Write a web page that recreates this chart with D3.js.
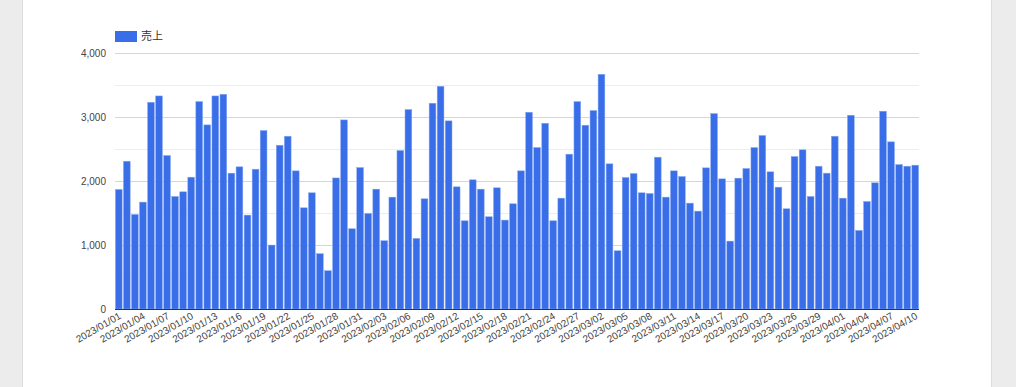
<!DOCTYPE html>
<html><head><meta charset="utf-8">
<script src="https://cdn.jsdelivr.net/npm/d3@7"></script>
<style>
html,body{margin:0;padding:0;background:#ececec;}
#card{position:absolute;left:22px;top:0;width:968px;height:387px;background:#fff;border-left:1px solid #dcdcdc;border-right:1px solid #dcdcdc;}
svg{position:absolute;left:0;top:0;}
</style></head>
<body><div id="card"></div><svg id="chart" width="1016" height="387"></svg>
<script>
const seriesName = "売上";
const startDate = "2023-01-01";
const values = [
1870,2312,1479,1672,3234,3333,2401,1760,1833,2062,
3245,2880,3333,3359,2125,2224,1469,2187,2792,1000,
2562,2703,2161,1583,1818,865,599,2050,2958,1255,
2213,1495,1875,1068,1750,2479,3120,1104,1724,3219,
3484,2943,1911,1380,2021,1875,1443,1896,1391,1646,
2161,3078,2526,2906,1380,1734,2422,3245,2875,3104,
3672,2271,911,2057,2120,1818,1807,2375,1750,2161,
2073,1656,1531,2208,3057,2036,1062,2047,2198,2526,
2714,2146,1906,1568,2385,2490,1760,2234,2125,2703,
1734,3031,1229,1682,1974,3094,2615,2260,2234,2250
];
const yTicks = [0,1000,2000,3000,4000];
const yMinor = [500,1500,2500,3500];

const fmt = d3.utcFormat("%Y/%m/%d");
const start = d3.utcParse("%Y-%m-%d")(startDate);
const categories = values.map((v,i)=>fmt(d3.utcDay.offset(start,i)));
const tickLabels = categories.filter((d,i)=>i%3===0);

const svg = d3.select("#chart");
const x = d3.scaleBand().domain(categories).range([115,919]).paddingInner(0.16).paddingOuter(0.05);
const y = d3.scaleLinear().domain([0,4000]).range([309,53.3]);

// gridlines
svg.append("g").selectAll("line.minor").data(yMinor).join("line")
  .attr("x1",115).attr("x2",919).attr("y1",d=>Math.round(y(d))+0.5).attr("y2",d=>Math.round(y(d))+0.5)
  .attr("stroke","#ededed").attr("stroke-width",1);
svg.append("g").selectAll("line.major").data(yTicks.slice(1)).join("line")
  .attr("x1",115).attr("x2",919).attr("y1",d=>Math.round(y(d))+0.5).attr("y2",d=>Math.round(y(d))+0.5)
  .attr("stroke","#d6d6d6").attr("stroke-width",1);

// y labels
svg.append("g").selectAll("text").data(yTicks).join("text")
  .attr("x",106).attr("y",d=>y(d)).attr("dy","0.35em").attr("text-anchor","end")
  .attr("font-family","'Liberation Sans',Arial,sans-serif").attr("font-size",10).attr("fill","#444")
  .text(d=>d3.format(",")(d));

// bars
svg.append("g").selectAll("rect").data(values).join("rect")
  .attr("x",(d,i)=>x(categories[i])).attr("width",x.bandwidth())
  .attr("y",d=>y(d)).attr("height",d=>y(0)-y(d))
  .attr("fill","#3a6ee8").attr("stroke","#86a9f1").attr("stroke-width",0.5);

// baseline
svg.append("line").attr("x1",115).attr("x2",919).attr("y1",309.5).attr("y2",309.5)
  .attr("stroke","#333").attr("stroke-width",1);

// x labels
svg.append("g").selectAll("text").data(tickLabels).join("text")
  .attr("transform",d=>`translate(${x(d)+x.bandwidth()/2+3},${318}) rotate(-30)`)
  .attr("text-anchor","end")
  .attr("font-family","'Liberation Sans',Arial,sans-serif").attr("font-size",10).attr("fill","#444")
  .text(d=>d);

// legend
const lg = svg.append("g");
lg.append("rect").attr("x",115).attr("y",31).attr("width",22).attr("height",11).attr("fill","#3a6ee8");
lg.append("text").attr("x",141).attr("y",36.5).attr("dy","0.35em")
  .attr("font-family","'Noto Sans CJK JP',sans-serif").attr("font-size",11).attr("fill","#333")
  .text(seriesName);
</script></body></html>
